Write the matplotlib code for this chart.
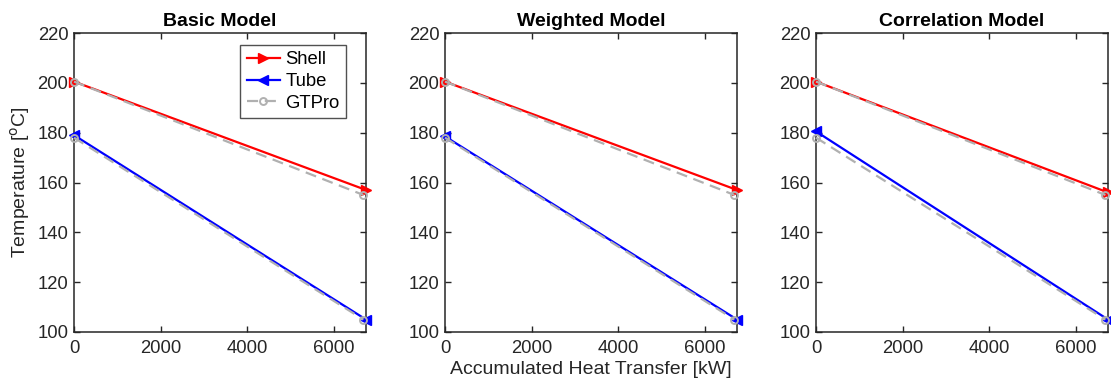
import matplotlib
matplotlib.use("Agg")
import matplotlib.pyplot as plt

plt.rcParams['font.family'] = ['Liberation Sans', 'DejaVu Sans']

titles = ["Basic Model", "Weighted Model", "Correlation Model"]
x_model = [0, 6740]
x_gtpro = [0, 6680]
shell_vals = [[200.5, 157.0], [200.5, 157.0], [200.5, 156.0]]
tube_vals = [[179.0, 105.0], [178.5, 105.0], [180.5, 105.0]]
gtpro_shell = [200.5, 155.0]
gtpro_tube = [178.0, 105.0]
yticks = [100, 120, 140, 160, 180, 200, 220]
xticks = [0, 2000, 4000, 6000]

W, H = 1111, 385
fig = plt.figure(figsize=(W / 100, H / 100), dpi=100)
lefts = [74, 445, 816]
axc = '#262626'
for i, l in enumerate(lefts):
    ax = fig.add_axes([l / W, (H - 332) / H, 292 / W, 299 / H])
    ax.plot(x_model, shell_vals[i], color='red', lw=1.6, marker='>', ms=6.5,
            label='Shell', clip_on=False, zorder=3)
    ax.plot(x_model, tube_vals[i], color='blue', lw=1.6, marker='<', ms=6.5,
            label='Tube', clip_on=False, zorder=3)
    ax.plot(x_gtpro, gtpro_shell, color='#b0b0b0', lw=1.6, ls=(0, (5, 3)),
            marker='o', ms=5, mfc='none', mew=1.4, label='GTPro', clip_on=False, zorder=4)
    ax.plot(x_gtpro, gtpro_tube, color='#b0b0b0', lw=1.6, ls=(0, (5, 3)),
            marker='o', ms=5, mfc='none', mew=1.4, clip_on=False, zorder=4)
    ax.set_xlim(0, 6740)
    ax.set_ylim(100, 220)
    ax.set_xticks(xticks)
    ax.set_yticks(yticks)
    ax.tick_params(direction='in', top=True, right=True, length=4, width=1,
                   colors=axc, labelsize=13.3, pad=4)
    ax.tick_params(axis='x', pad=6)
    for s in ax.spines.values():
        s.set_color(axc)
        s.set_linewidth(1.1)
    ax.set_title(titles[i], fontsize=14, fontweight='bold', pad=5)
    if i == 0:
        ax.set_ylabel('Temperature [$^{\\rm o}$C]', fontsize=14, color=axc, labelpad=4)
        leg = ax.legend(loc='upper right', fontsize=13.3, frameon=True, fancybox=False,
                        edgecolor=axc, handlelength=1.8, borderpad=0.35, labelspacing=0.25,
                        handletextpad=0.3, borderaxespad=0,
                        bbox_to_anchor=(0.932, 0.96))
        leg.get_frame().set_linewidth(1.0)
    if i == 1:
        ax.set_xlabel('Accumulated Heat Transfer [kW]', fontsize=14, color=axc, labelpad=3)

fig.savefig('out.png', dpi=100)
